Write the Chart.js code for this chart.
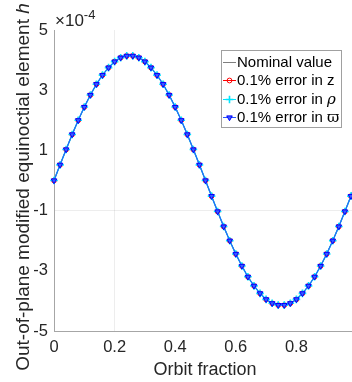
<!DOCTYPE html>
<html>
<head>
<meta charset="utf-8">
<script src="https://cdn.jsdelivr.net/npm/chart.js@4/dist/chart.umd.min.js"></script>
<style>
html,body{margin:0;padding:0;background:#fff;}
#wrap{width:352px;height:382px;overflow:hidden;position:relative;}
canvas{display:block;}
</style>
</head>
<body>
<div id="wrap"><canvas id="c" width="380" height="382"></canvas></div>
<script>
// ---- data (h in units of 1e-4) ----
const orbitFraction = [0,0.02,0.04,0.06,0.08,0.10,0.12,0.14,0.16,0.18,0.20,0.22,0.24,0.26,0.28,0.30,0.32,0.34,0.36,0.38,0.40,0.42,0.44,0.46,0.48,0.50,0.52,0.54,0.56,0.58,0.60,0.62,0.64,0.66,0.68,0.70,0.72,0.74,0.76,0.78,0.80,0.82,0.84,0.86,0.88,0.90,0.92,0.94,0.96,0.98,1.00];
const nominalH = [0,0.52,1.03,1.53,2.00,2.44,2.84,3.20,3.50,3.75,3.95,4.08,4.14,4.14,4.08,3.95,3.75,3.50,3.20,2.84,2.44,2.00,1.53,1.03,0.52,0,-0.52,-1.03,-1.53,-2.00,-2.44,-2.84,-3.20,-3.50,-3.75,-3.95,-4.08,-4.14,-4.14,-4.08,-3.95,-3.75,-3.50,-3.20,-2.84,-2.44,-2.00,-1.53,-1.03,-0.52,0];
const errZH = [0,0.52,1.03,1.53,2.00,2.44,2.84,3.20,3.50,3.75,3.95,4.08,4.14,4.14,4.08,3.95,3.75,3.50,3.20,2.84,2.44,2.00,1.53,1.03,0.52,0,-0.52,-1.03,-1.53,-2.00,-2.44,-2.84,-3.20,-3.50,-3.75,-3.95,-4.08,-4.14,-4.14,-4.08,-3.95,-3.75,-3.50,-3.20,-2.84,-2.44,-2.00,-1.53,-1.03,-0.52,0];
const errRhoH = [0,0.52,1.03,1.53,2.00,2.44,2.84,3.20,3.50,3.75,3.95,4.08,4.14,4.14,4.08,3.95,3.75,3.50,3.20,2.84,2.44,2.00,1.53,1.03,0.52,0,-0.52,-1.03,-1.53,-2.00,-2.44,-2.84,-3.20,-3.50,-3.75,-3.95,-4.08,-4.14,-4.14,-4.08,-3.95,-3.75,-3.50,-3.20,-2.84,-2.44,-2.00,-1.53,-1.03,-0.52,0];
const errVarpiH = [0,0.52,1.03,1.53,2.00,2.44,2.84,3.20,3.50,3.75,3.95,4.08,4.14,4.14,4.08,3.95,3.75,3.50,3.20,2.84,2.44,2.00,1.53,1.03,0.52,0,-0.52,-1.03,-1.53,-2.00,-2.44,-2.84,-3.20,-3.50,-3.75,-3.95,-4.08,-4.14,-4.14,-4.08,-3.95,-3.75,-3.50,-3.20,-2.84,-2.44,-2.00,-1.53,-1.03,-0.52,0];
const seriesLabels = ['Nominal value','0.1% error in z','0.1% error in ','0.1% error in '];
const seriesSymbols = ['','','\u03C1','\u03D6'];
const yTicks = [-5,-3,-1,1,3,5];
const xTicks = [0,0.2,0.4,0.6,0.8,1];
const xTitle = 'Orbit fraction';
const yTitle = 'Out-of-plane modified equinoctial element ';
const yTitleVar = 'h';
const exponentLabel = '-4';

const FONT = '"Liberation Sans", Arial, Helvetica, sans-serif';
const pts = arr => orbitFraction.map((x,i)=>({x:x,y:arr[i]}));

const styles = [
  {color:'#7f7f7f', point:false, order:3, bw:1},
  {color:'#ff0000', point:'circle', fill:null, r:2.4, order:2, bw:1},
  {color:'#00e5ff', point:'cross', fill:null, r:3.8, order:1, bw:1.6},
  {color:'#0000ff', point:'triangle', fill:'#3f5cff', r:3.2, rot:180, order:0, bw:1}
];
const seriesData = [nominalH, errZH, errRhoH, errVarpiH];

const datasets = seriesData.map((arr,i)=>{
  const s = styles[i];
  return {
    label: seriesLabels[i],
    symbol: seriesSymbols[i],
    data: pts(arr),
    borderColor: i===3 ? '#2a55ff' : s.color,
    borderWidth: i===2 ? 1.5 : 1,
    pointStyle: s.point || 'circle',
    pointRadius: s.point ? s.r : 0,
    pointRotation: s.rot || 0,
    pointBackgroundColor: s.fill ? s.fill : 'rgba(0,0,0,0)',
    pointBorderColor: s.color,
    pointBorderWidth: s.bw,
    tension: 0,
    order: s.order,
    clip: false
  };
});

const textPlugin = {
  id:'texts',
  afterDraw(chart){
    const ctx = chart.ctx;
    ctx.save();
    ctx.fillStyle = '#262626';
    // x title
    ctx.font = '18px ' + FONT;
    ctx.textAlign = 'center';
    ctx.textBaseline = 'alphabetic';
    ctx.fillText(xTitle, 205, 375);
    // y title (rotated) with italic h
    ctx.save();
    ctx.translate(29, 187);
    ctx.rotate(-Math.PI/2);
    ctx.font = '19px ' + FONT;
    const w1 = ctx.measureText(yTitle).width;
    ctx.font = 'italic 19px ' + FONT;
    const w2 = ctx.measureText(yTitleVar).width;
    const start = -(w1+w2)/2;
    ctx.textAlign = 'left';
    ctx.font = '19px ' + FONT;
    ctx.fillText(yTitle, start, 0);
    ctx.font = 'italic 19px ' + FONT;
    ctx.fillText(yTitleVar, start + w1, 0);
    ctx.restore();
    // exponent label
    ctx.textAlign = 'left';
    ctx.font = '17px ' + FONT;
    const base = '\u00D710';
    ctx.fillText(base, 55, 26);
    const bw = ctx.measureText(base).width;
    ctx.font = '13px ' + FONT;
    ctx.fillText(exponentLabel, 55 + bw, 19);
    // legend
    const lx = 221, ly = 50, lw = 120, lh = 77;
    ctx.fillStyle = '#ffffff';
    ctx.fillRect(lx, ly, lw, lh);
    ctx.strokeStyle = '#a0a0a0';
    ctx.lineWidth = 1;
    ctx.strokeRect(lx+0.5, ly+0.5, lw, lh);
    const rows = [62, 80, 99, 117];
    chart.data.datasets.forEach((ds,i)=>{
      const y = rows[i];
      ctx.strokeStyle = ds.borderColor;
      ctx.lineWidth = 1;
      ctx.beginPath();
      ctx.moveTo(223, y+0.5);
      ctx.lineTo(236, y+0.5);
      ctx.stroke();
      if (ds.pointRadius > 0) {
        ctx.fillStyle = ds.pointBackgroundColor;
        ctx.strokeStyle = ds.pointBorderColor;
        ctx.lineWidth = ds.pointBorderWidth;
        Chart.helpers.drawPoint(ctx, {
          pointStyle: ds.pointStyle, radius: ds.pointRadius, rotation: ds.pointRotation,
          borderWidth: ds.pointBorderWidth
        }, 229.5, y+0.5);
      }
      ctx.fillStyle = '#000000';
      ctx.font = '15px ' + FONT;
      ctx.textAlign = 'left';
      ctx.textBaseline = 'middle';
      ctx.fillText(ds.label, 237, y+1);
      if (ds.symbol) {
        const lw2 = ctx.measureText(ds.label).width;
        ctx.font = (ds.symbol === '\u03C1' ? 'italic ' : '') + '15px "DejaVu Serif", serif';
        ctx.fillText(ds.symbol, 237 + lw2, y+1);
      }
    });
    ctx.restore();
  }
};

new Chart(document.getElementById('c'), {
  type: 'line',
  data: { datasets },
  options: {
    responsive: false,
    animation: false,
    devicePixelRatio: 1,
    layout: { padding: { top: 30, right: 23, left: 0, bottom: 0 } },
    plugins: { legend: { display: false }, tooltip: { enabled: false } },
    scales: {
      x: {
        type: 'linear', min: 0, max: 1,
        afterFit: s => { s.height = 51; },
        afterBuildTicks: s => { s.ticks = xTicks.map(v=>({value:v})); },
        ticks: {
          padding: 7, color: '#262626', font: { family: FONT, size: 16.5 },
          maxRotation: 0, autoSkip: false,
          callback: v => String(Math.round(v*10)/10)
        },
        grid: {
          drawTicks: false,
          color: c => (c.tick && Math.abs(c.tick.value-0.2)<1e-9) ? 'rgba(0,0,0,0.07)' : 'rgba(0,0,0,0)'
        },
        border: { display: true, color: '#a6a6a6', width: 1 }
      },
      y: {
        type: 'linear', min: -5, max: 5,
        afterFit: s => { s.width = 54; },
        afterBuildTicks: s => { s.ticks = yTicks.map(v=>({value:v})); },
        ticks: {
          padding: 6, color: '#262626', font: { family: FONT, size: 16.5 },
          callback: v => String(v)
        },
        grid: {
          drawTicks: false,
          color: c => (c.tick && c.tick.value === -1) ? 'rgba(0,0,0,0.07)' : 'rgba(0,0,0,0)'
        },
        border: { display: true, color: '#a6a6a6', width: 1 }
      }
    }
  },
  plugins: [textPlugin]
});
</script>
</body>
</html>
